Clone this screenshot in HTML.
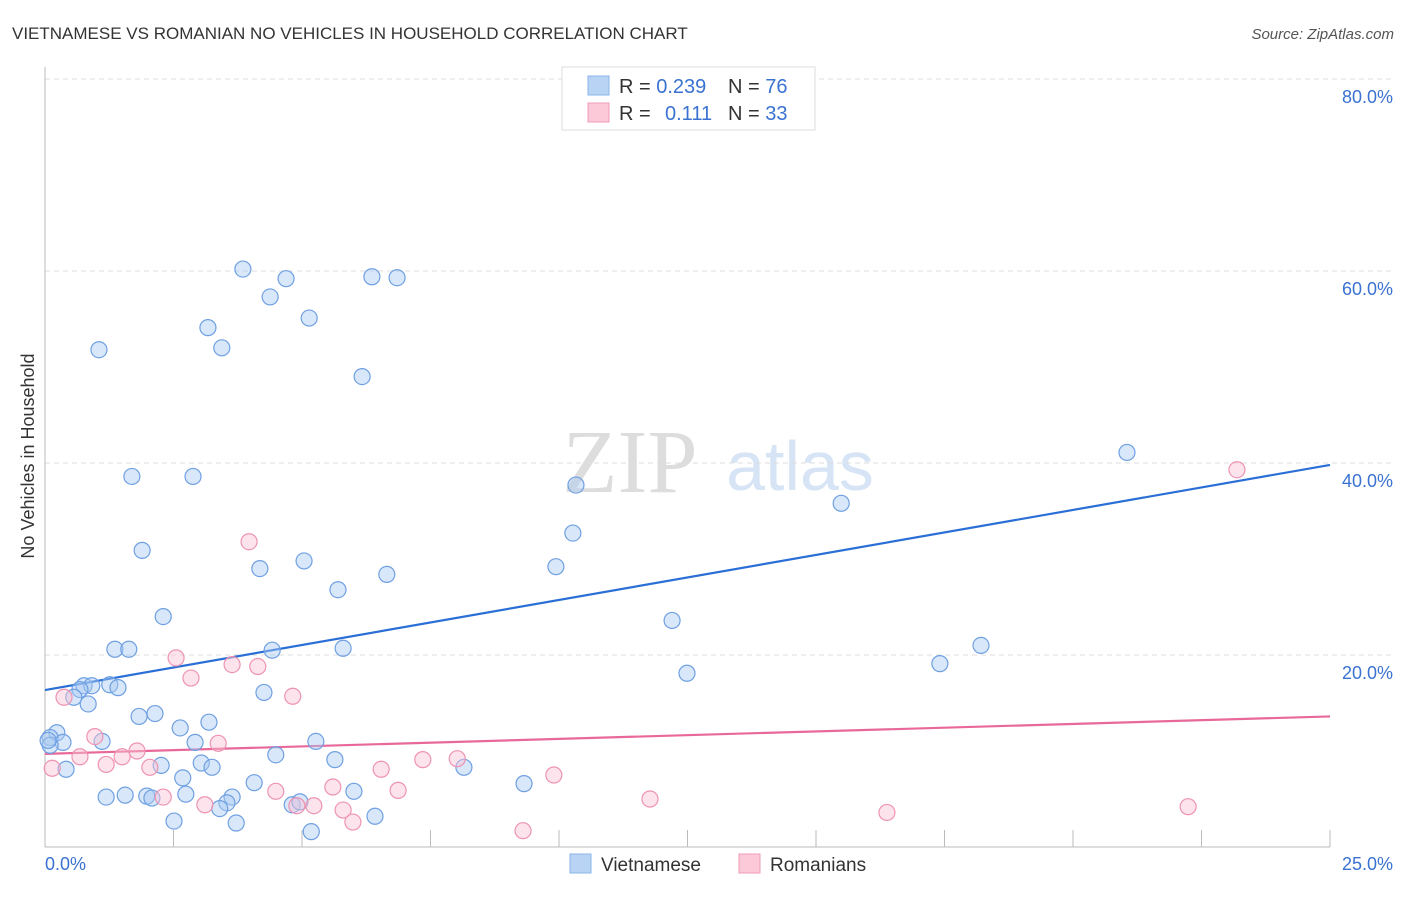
<!DOCTYPE html>
<html><head><meta charset="utf-8"><style>
body{margin:0;background:#fff;width:1406px;height:892px;overflow:hidden;font-family:"Liberation Sans",sans-serif}
</style></head><body>
<svg id="chart" width="1406" height="892">
<text x="12" y="39" font-size="17" fill="#333">VIETNAMESE VS ROMANIAN NO VEHICLES IN HOUSEHOLD CORRELATION CHART</text>
<text x="1394" y="39" font-size="15" fill="#555" font-style="italic" text-anchor="end">Source: ZipAtlas.com</text>
<text x="630" y="492" font-size="90" fill="#ddd" font-family="Liberation Serif" text-anchor="middle">ZIP</text>
<text x="800" y="490" font-size="70" fill="#d6e4f5" text-anchor="middle">atlas</text>
<text transform="translate(34,456) rotate(-90)" font-size="18" fill="#333" text-anchor="middle">No Vehicles in Household</text>
<g id="grid"></g><g id="axes"></g><g id="lines"></g><g id="pts"></g>
<g>
<rect x="562" y="67" width="253" height="63" fill="#fff" stroke="#ddd"/>
<rect x="588" y="76" width="21" height="19" fill="#b9d3f5" stroke="#8ab4ea"/>
<rect x="588" y="103" width="21" height="19" fill="#fcc9d8" stroke="#f19bb7"/>
<text x="619" y="93" font-size="20" fill="#333">R = <tspan fill="#3a72d1">0.239</tspan><tspan x="728">N = </tspan><tspan fill="#3a72d1">76</tspan></text>
<text x="619" y="120" font-size="20" fill="#333">R = <tspan x="665" fill="#3a72d1">0.111</tspan><tspan x="728">N = </tspan><tspan fill="#3a72d1">33</tspan></text>
</g>
<g>
<rect x="570" y="854" width="21" height="19" fill="#b9d3f5" stroke="#8ab4ea"/>
<text x="601" y="871" font-size="19" fill="#333">Vietnamese</text>
<rect x="739" y="854" width="21" height="19" fill="#fcc9d8" stroke="#f19bb7"/>
<text x="770" y="871" font-size="19" fill="#333">Romanians</text>
</g>
</svg>
<script>
const yTicks=[20,40,60,80];
const xTickLabels=["0.0%","25.0%"];
const blueX=[1.05,3.85,4.38,4.69,6.36,6.85,5.14,3.17,3.44,6.17,1.69,2.88,10.33,10.27,1.89,5.04,4.18,6.65,9.94,5.70,2.30,12.20,1.36,1.63,4.42,5.80,21.05,15.49,18.21,17.41,12.49,0.76,0.91,1.26,1.42,0.68,0.56,0.84,4.26,1.83,2.14,3.19,2.63,0.23,0.10,0.35,1.11,2.92,5.27,4.49,3.04,3.25,5.64,2.26,0.41,8.15,2.68,4.07,9.32,1.19,1.56,1.98,2.08,2.74,3.64,3.54,3.40,4.81,4.96,6.01,6.42,2.51,3.72,5.18,0.10,0.06];
const blueY=[51.8,60.2,57.3,59.2,59.4,59.3,55.1,54.1,52.0,49.0,38.6,38.6,37.7,32.7,30.9,29.8,29.0,28.4,29.2,26.8,24.0,23.6,20.6,20.6,20.5,20.7,41.1,35.8,21.0,19.1,18.1,16.8,16.8,16.9,16.6,16.4,15.6,14.9,16.1,13.6,13.9,13.0,12.4,11.9,11.4,10.9,11.0,10.9,11.0,9.6,8.75,8.3,9.1,8.5,8.1,8.3,7.2,6.7,6.6,5.2,5.4,5.3,5.1,5.5,5.2,4.6,4.0,4.4,4.7,5.8,3.2,2.7,2.5,1.6,10.6,11.1];
const pinkX=[23.19,3.97,2.55,3.64,4.14,2.84,4.82,0.37,0.97,3.37,1.79,1.50,0.68,1.19,0.14,2.04,6.54,7.35,8.02,9.90,5.60,4.49,6.87,2.30,3.11,4.90,5.23,5.80,11.77,22.24,16.38,5.99,9.30];
const pinkY=[39.3,31.8,19.7,19.0,18.8,17.6,15.7,15.6,11.5,10.8,10.0,9.4,9.4,8.6,8.2,8.3,8.1,9.1,9.2,7.5,6.25,5.8,5.9,5.2,4.4,4.3,4.3,3.85,5.0,4.2,3.6,2.6,1.7];
const blueFit=[16.35,39.8];
const pinkFit=[9.7,13.6];
const NS="http://www.w3.org/2000/svg";
const X=v=>45+v*51.4, Y=v=>847-v*9.6;
function mk(tag,attrs,parent){const e=document.createElementNS(NS,tag);for(const k in attrs)e.setAttribute(k,attrs[k]);document.getElementById(parent).appendChild(e);return e;}
yTicks.forEach(t=>{
 const l=mk('line',{x1:45,x2:1395,y1:Y(t),y2:Y(t),stroke:'#ddd','stroke-dasharray':'5,4'},'grid');
 
 
 const tx=mk('text',{x:1393,y:Y(t)+24,'font-size':18,fill:'#3a72d1','text-anchor':'end'},'grid');
 tx.textContent=t.toFixed(1)+'%';
 
 
});
const ya=mk('line',{x1:45,x2:45,y1:67,y2:847,stroke:'#bbb'},'axes');


const xa=mk('line',{x1:45,x2:1330,y1:847,y2:847,stroke:'#bbb'},'axes');


for(let i=0;i<=10;i++){const tk=mk('line',{x1:X(i*2.5),x2:X(i*2.5),y1:830,y2:847,stroke:'#bbb'},'axes');
 
 }
const xl0=mk('text',{x:45,y:870,'font-size':18,fill:'#3a72d1'},'axes');xl0.textContent=xTickLabels[0];


const xl1=mk('text',{x:1393,y:870,'font-size':18,fill:'#3a72d1','text-anchor':'end'},'axes');xl1.textContent=xTickLabels[1];


function pts(xs,ys,fill,stroke,name){xs.forEach((x,i)=>{
 const c=mk('circle',{cx:X(x),cy:Y(ys[i]),r:8,fill:fill,'fill-opacity':0.45,stroke:stroke,'stroke-width':1.2},'pts');
 
 });}
pts(blueX,blueY,'#a9c9f2','#6fa0e2','vietnamese-point');
pts(pinkX,pinkY,'#fbc3d4','#ee93b1','romanian-point');
const bl=mk('line',{x1:X(0),y1:Y(blueFit[0]),x2:X(25),y2:Y(blueFit[1]),stroke:'#2a6fd6','stroke-width':2.2},'lines');


const pl=mk('line',{x1:X(0),y1:Y(pinkFit[0]),x2:X(25),y2:Y(pinkFit[1]),stroke:'#e8689a','stroke-width':2.2},'lines');


</script>
</body></html>
